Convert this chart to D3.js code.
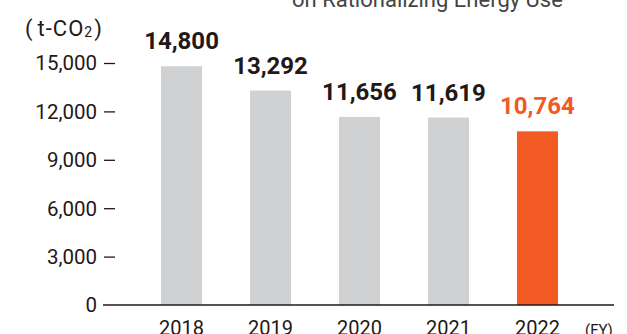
<!DOCTYPE html>
<html>
<head>
<meta charset="utf-8">
<script src="https://cdn.jsdelivr.net/npm/d3@7"></script>
<style>
  html, body { margin: 0; padding: 0; background: #fff; }
  svg { display: block; font-family: Roboto, "Noto Sans", sans-serif; }
</style>
</head>
<body>
<svg id="chart" width="627" height="334"></svg>
<script>
// CO2 emissions by fiscal year
const years = ["2018", "2019", "2020", "2021", "2022"];
const emissions = [14800, 13292, 11656, 11619, 10764];
const yTicks = [0, 3000, 6000, 9000, 12000, 15000];

const svg = d3.select("#chart");
const textColor = "#231815";
const grey = "#d0d1d3";
const orange = "#f15a22";

const x = d3.scaleBand()
  .domain(years)
  .range([137, 582])
  .paddingInner(0.539)
  .paddingOuter(0.27);

const y = d3.scaleLinear()
  .domain([0, 15000])
  .range([305, 63]);

// title (partly outside the view)
svg.append("text")
  .attr("x", 292).attr("y", 7)
  .attr("font-size", 22)
  .attr("fill", "#444")
  .text("on Rationalizing Energy Use");

// unit label
const unit = svg.append("text")
  .attr("x", 25).attr("y", 36)
  .attr("font-size", 22)
  .attr("letter-spacing", 1)
  .attr("fill", textColor);
unit.append("tspan").text("(");
unit.append("tspan").attr("dx", 4).text("t-CO");
unit.append("tspan").attr("font-size", 14).attr("dy", 1).text("2");
unit.append("tspan").attr("dy", -1).attr("dx", 1).text(")");

// y axis: labels with short tick marks
const yAxis = svg.append("g");
yAxis.selectAll("text")
  .data(yTicks)
  .join("text")
  .attr("x", 97)
  .attr("y", d => y(d))
  .attr("dy", "0.36em")
  .attr("text-anchor", "end")
  .attr("font-size", 20.5)
  .attr("fill", textColor)
  .text(d => d3.format(",")(d));
yAxis.selectAll("line")
  .data(yTicks.filter(d => d > 0))
  .join("line")
  .attr("x1", 104).attr("x2", 115)
  .attr("y1", d => y(d) + 0.5).attr("y2", d => y(d) + 0.5)
  .attr("stroke", textColor)
  .attr("stroke-width", 1.3);

// bars
svg.selectAll("rect.bar")
  .data(emissions)
  .join("rect")
  .attr("class", "bar")
  .attr("x", (d, i) => x(years[i]))
  .attr("width", x.bandwidth())
  .attr("y", d => y(d))
  .attr("height", d => y(0) - y(d))
  .attr("fill", (d, i) => i === years.length - 1 ? orange : grey);

// baseline
svg.append("line")
  .attr("x1", 103).attr("x2", 614)
  .attr("y1", y(0)).attr("y2", y(0))
  .attr("stroke", textColor)
  .attr("stroke-width", 1.5);

// value labels
svg.selectAll("text.value")
  .data(emissions)
  .join("text")
  .attr("class", "value")
  .attr("x", (d, i) => x(years[i]) + x.bandwidth() / 2)
  .attr("y", d => y(d) - 17)
  .attr("text-anchor", "middle")
  .attr("font-size", 24)
  .attr("font-weight", "bold")
  .attr("fill", (d, i) => i === years.length - 1 ? orange : textColor)
  .text(d => d3.format(",")(d));

// x axis labels
svg.selectAll("text.year")
  .data(years)
  .join("text")
  .attr("class", "year")
  .attr("x", d => x(d) + x.bandwidth() / 2)
  .attr("y", 334.5)
  .attr("text-anchor", "middle")
  .attr("font-size", 20)
  .attr("fill", textColor)
  .text(d => d);

svg.append("text")
  .attr("x", 585).attr("y", 335)
  .attr("font-size", 15)
  .attr("fill", textColor)
  .text("(FY)");
</script>
</body>
</html>
